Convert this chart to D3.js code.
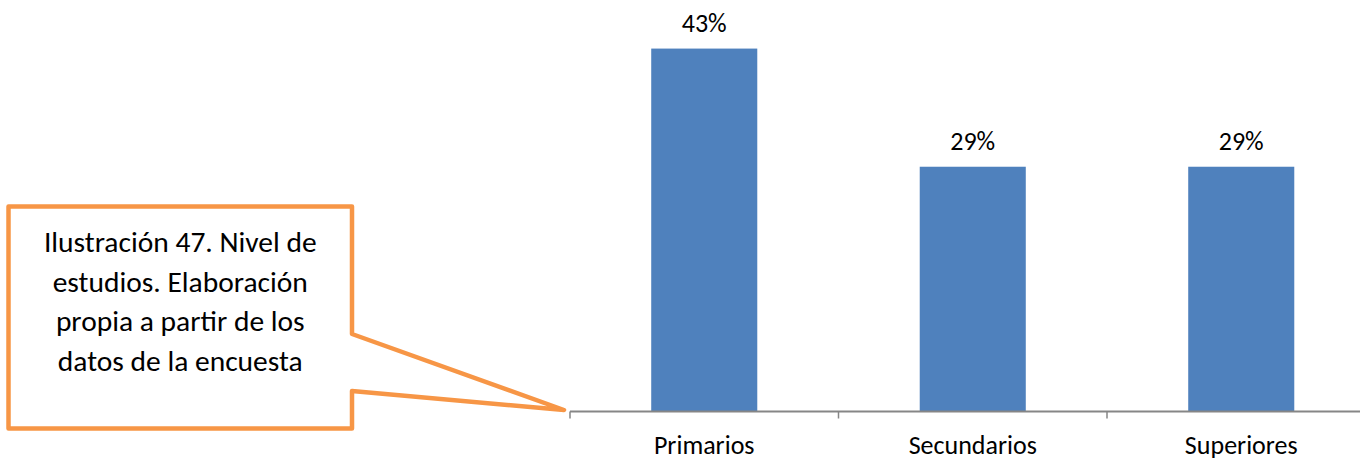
<!DOCTYPE html>
<html>
<head>
<meta charset="utf-8">
<script src="https://cdn.jsdelivr.net/npm/d3@7"></script>
<style>
  html, body { margin: 0; padding: 0; background: #fff; }
  svg { display: block; }
  text { font-family: Carlito, Calibri, Lato, "Open Sans", sans-serif; fill: #000; }
</style>
</head>
<body>
<svg id="chart" width="1360" height="461"></svg>
<script>
const categories = ["Primarios", "Secundarios", "Superiores"];
const values = [43, 29, 29];
const valueLabels = ["43%", "29%", "29%"];
const calloutLines = ["Ilustración 47. Nivel de", "estudios. Elaboración", "propia a partir de los", "datos de la encuesta"];

const svg = d3.select("#chart");
const baseY = 411.5;
const step = 268.5;
const x = d3.scaleBand().domain(categories).range([570, 570 + step * categories.length]).padding(0);
const y = d3.scaleLinear().domain([0, 50]).range([baseY, baseY - 50 * 8.44]);
const barW = x.bandwidth() * 0.395;

// bars
svg.selectAll("rect.bar").data(categories).join("rect")
  .attr("class", "bar")
  .attr("x", d => x(d) + (x.bandwidth() - barW) / 2)
  .attr("width", barW)
  .attr("y", (d, i) => y(values[i]))
  .attr("height", (d, i) => baseY - y(values[i]))
  .attr("fill", "#4F81BD");

// value labels
svg.selectAll("text.val").data(categories).join("text")
  .attr("class", "val")
  .attr("x", d => x(d) + x.bandwidth() / 2)
  .attr("y", (d, i) => y(values[i]) - 17)
  .attr("text-anchor", "middle")
  .attr("font-size", 26)
  .text((d, i) => valueLabels[i]);

// axis
const axisG = svg.append("g");
axisG.append("line")
  .attr("x1", x.range()[0]).attr("x2", 1360)
  .attr("y1", baseY).attr("y2", baseY)
  .attr("stroke", "#868686").attr("stroke-width", 2);
const tickPos = categories.map(d => x(d)).concat([x.range()[1]]);
axisG.selectAll("line.tick").data(tickPos).join("line")
  .attr("class", "tick")
  .attr("x1", d => d).attr("x2", d => d)
  .attr("y1", baseY).attr("y2", baseY + 7)
  .attr("stroke", "#868686").attr("stroke-width", 1.5);
axisG.selectAll("text.cat").data(categories).join("text")
  .attr("class", "cat")
  .attr("x", d => x(d) + x.bandwidth() / 2)
  .attr("y", 454)
  .attr("text-anchor", "middle")
  .attr("font-size", 26)
  .text(d => d);

// callout
const L = 8.5, T = 206.5, R = 352, B = 428.5;
const j1 = 334, j2 = 391, tip = [564, 410];
const path = d3.path();
path.moveTo(L, T);
path.lineTo(R, T);
path.lineTo(R, j1);
path.lineTo(tip[0], tip[1]);
path.lineTo(R, j2);
path.lineTo(R, B);
path.lineTo(L, B);
path.closePath();
svg.append("path")
  .attr("d", path.toString())
  .attr("fill", "#fff")
  .attr("stroke", "#F79646")
  .attr("stroke-width", 4.5)
  .attr("stroke-linejoin", "round");

svg.selectAll("text.call").data(calloutLines).join("text")
  .attr("class", "call")
  .attr("x", (L + R) / 2)
  .attr("y", (d, i) => 252 + i * 39.5)
  .attr("text-anchor", "middle")
  .attr("font-size", 29.5)
  .text(d => d);
</script>
</body>
</html>
